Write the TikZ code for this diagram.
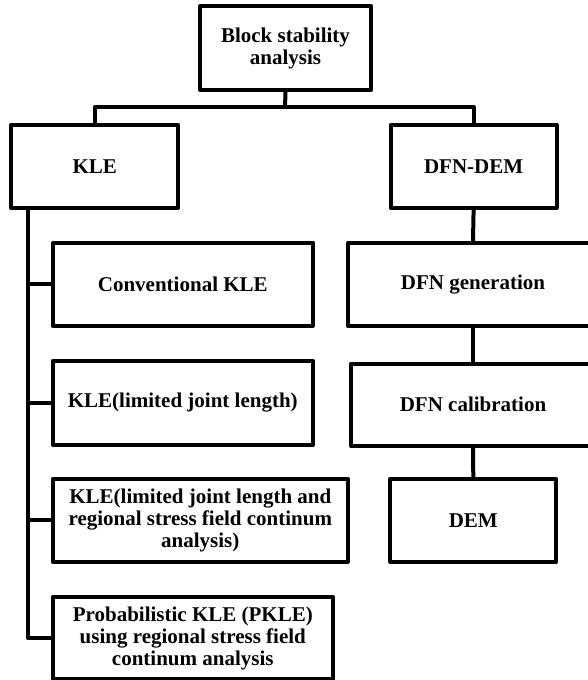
\documentclass[tikz,border=0pt]{standalone}
\usepackage{fontspec}
\setmainfont{Liberation Serif}
\tikzset{
	chart/.is family,
	chart/.cd,
	box/.style = {
		draw,
		line width = 4pt,
		line join = round,
		align = center,
		inner sep = 6pt,
		font = \bfseries\fontsize{21}{22}\selectfont,
	},
	link/.style = {
		line width = 4pt,
		line join = round,
	},
}

\begin{document}
\begin{tikzpicture}[x = 1pt, y = -1pt]
	\path[use as bounding box, clip] (0, 0) rectangle (588, 680);

	\node[chart/box, minimum width = 171pt, minimum height = 84pt] (block) at (285.5, 48) {Block stability\\analysis};

	\node[chart/box, minimum width = 167pt, minimum height = 83pt] (kle) at (94.7, 166.4) {KLE};
	\node[chart/box, minimum width = 260pt, minimum height = 83pt] (conv) at (182.8, 284.3) {Conventional KLE};
	\node[chart/box, minimum width = 260pt, minimum height = 84pt] (limited) at (182.8, 403) {KLE(limited joint length)};
	\node[chart/box, minimum width = 295pt, minimum height = 83pt] (stress) at (200.3, 520.3) {KLE(limited joint length and\\regional stress field continum\\analysis)};
	\node[chart/box, minimum width = 280pt, minimum height = 82pt] (pkle) at (192.8, 638) {Probabilistic KLE (PKLE)\\using regional stress field\\continum analysis};

	% right column runs past the edge of the page
	\node[chart/box, minimum width = 166pt, minimum height = 83pt] (dfndem) at (473.6, 166.4) {DFN-DEM};
	\node[chart/box, minimum width = 250pt, minimum height = 83pt] (gen) at (473, 284.3) {DFN generation};
	\node[chart/box, minimum width = 244pt, minimum height = 82pt] (calib) at (473, 404.8) {DFN calibration};
	\node[chart/box, minimum width = 166pt, minimum height = 83pt] (dem) at (473.3, 520.3) {DEM};

	\coordinate (split) at (285, 107);
	\coordinate (spine) at (28, 0);

	\draw[chart/link] (block.south) -- (split);
	\draw[chart/link] (kle.north) |- (split) -| (dfndem.north);

	\draw[chart/link] (kle.south -| spine) |- (pkle.west);
	\foreach \n in {conv, limited, stress}
		\draw[chart/link] (\n.west) -- (\n.west -| spine);

	\foreach \a/\b in {dfndem/gen, gen/calib, calib/dem}
		\draw[chart/link] (\a.south) -- (\b.north);
\end{tikzpicture}
\end{document}
